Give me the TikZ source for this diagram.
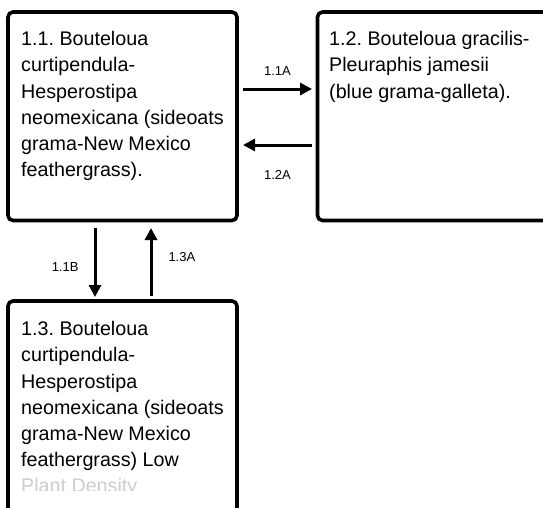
\documentclass[tikz,border=0pt]{standalone}
\usepackage{fontspec}
\setmainfont{Liberation Sans}
\usetikzlibrary{arrows.meta}
\frenchspacing

\tikzset{
  box/.style={draw, line width=3.6pt, rounded corners=5pt, anchor=north west,
    inner sep=0pt, outer sep=0pt, minimum width=229pt},
  boxtext/.style={anchor=north west, inner sep=0pt, align=left,
    font=\fontsize{19.7}{26.3}\selectfont},
  flow/.style={line width=3pt, -{Triangle[length=12pt,width=12pt]}},
  flowlabel/.style={font=\fontsize{13}{15}\selectfont, inner sep=0pt}
}

\begin{document}
\begin{tikzpicture}[x=1pt,y=-1pt]
  \useasboundingbox (0,0) rectangle (543,507);
  \clip (0,0) rectangle (543,507);

  % boxes
  \node[box, minimum height=208.5pt] (grama) at (8,12) {};
  \node[box, minimum height=208.5pt, minimum width=240pt] (galleta) at (317.5,12) {};
  \node[box, minimum height=230pt] (density) at (8,301) {};

  \node[boxtext] (gramatext) at (21,31) {1.1. Bouteloua\\curtipendula-\\Hesperostipa\\neomexicana (sideoats\\grama-New Mexico\\feathergrass).};
  \node[boxtext] (galletatext) at (329,31) {1.2. Bouteloua gracilis-\\Pleuraphis jamesii\\(blue grama-galleta).};
  \node[boxtext] (densitytext) at (21,321) {1.3. Bouteloua\\curtipendula-\\Hesperostipa\\neomexicana (sideoats\\grama-New Mexico\\feathergrass) Low};
  \begin{scope}
    \clip (15,470) rectangle (235,490);
    \node[boxtext, text=gray!40] (densitymore) at (21,478) {Plant Density};
  \end{scope}

  % transitions
  \draw[flow] ([xshift=6pt,yshift=-77pt]grama.north east) -- ([xshift=-5.5pt,yshift=-77pt]galleta.north west)
    node[flowlabel, midway, above=12pt] {1.1A};
  \draw[flow] ([xshift=-5.5pt,yshift=-133pt]galleta.north west) -- ([xshift=6pt,yshift=-133pt]grama.north east)
    node[flowlabel, midway, below=24pt] {1.2A};
  \draw[flow] ([xshift=87pt,yshift=-7.5pt]grama.south west) -- ([xshift=87pt,yshift=4pt]density.north west)
    node[flowlabel, midway, left=15pt, yshift=-4.5pt] {1.1B};
  \draw[flow] ([xshift=143pt,yshift=5pt]density.north west) -- ([xshift=143pt,yshift=-7.5pt]grama.south west)
    node[flowlabel, midway, right=16pt, yshift=4.5pt] {1.3A};
\end{tikzpicture}
\end{document}
